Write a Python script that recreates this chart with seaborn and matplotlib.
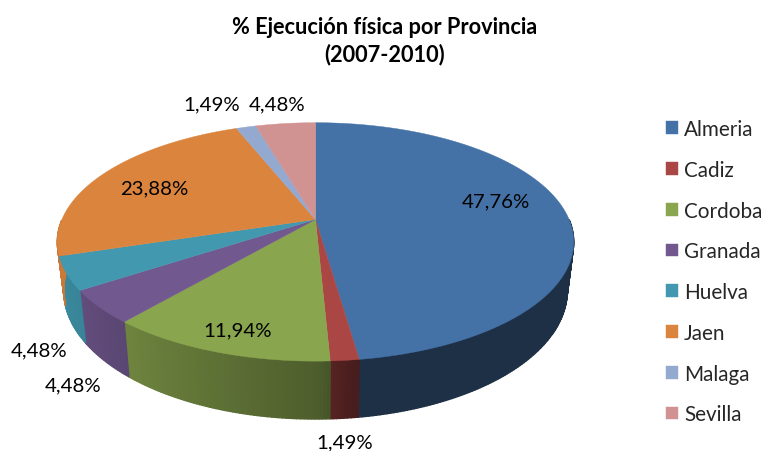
import numpy as np
import matplotlib
matplotlib.use("Agg")
import matplotlib.pyplot as plt
import seaborn as sns

provinces = ["Almeria", "Cadiz", "Cordoba", "Granada", "Huelva", "Jaen", "Malaga", "Sevilla"]
shares = [47.76, 1.49, 11.94, 4.48, 4.48, 23.88, 1.49, 4.48]
hex_colors = ["#4472A6", "#AA4644", "#89A54E", "#71588F", "#4198AF", "#DB843D", "#93A9CF", "#D19392"]
title_lines = ["% Ejecución física por Provincia", "(2007-2010)"]

sns.set_theme(style="white")
plt.rcParams["font.family"] = ["Lato", "DejaVu Sans"]
palette = sns.color_palette(hex_colors)

W, H = 763, 452
fig = plt.figure(figsize=(W / 100, H / 100), dpi=100)
ax = fig.add_axes([0, 0, 1, 1])
ax.set_xlim(0, W)
ax.set_ylim(H, 0)
ax.axis("off")

# perspective projection of the pie disc
CX, CY, A, B, K, DEPTH, SHRINK = 315.5, 220.5, 253.6, 115.0, 0.188, 47, 0.975


def top(theta):
    X, Y = np.sin(theta), np.cos(theta)
    d = 1 + K * Y
    return CX + A * X / d, CY - B * Y / d


def bottom(theta):
    X, Y = np.sin(theta), np.cos(theta)
    d = 1 + K * Y
    return CX + SHRINK * A * X / d, CY - B * Y / d + DEPTH / d


def shade(theta):
    return np.interp(np.sin(theta), [-1, -0.65, 0, 0.12, 1], [0.92, 0.8, 0.57, 0.42, 0.42])


edges = np.r_[0, np.cumsum(shares)] / np.sum(shares) * 2 * np.pi

# side wall, drawn in thin strips so the shading can follow the rim
for i, col in enumerate(palette):
    grid = np.arange(edges[i], edges[i + 1] + 0.012, 0.012)
    grid[-1] = edges[i + 1]
    for t0, t1 in zip(grid[:-1], grid[1:]):
        if np.cos(0.5 * (t0 + t1)) > 0:
            continue
        tt = np.array([t0, t1])
        x1, y1 = top(tt)
        x2, y2 = bottom(tt)
        c = np.array(col) * shade(0.5 * (t0 + t1))
        ax.fill(np.r_[x1, x2[::-1]], np.r_[y1, y2[::-1]], color=c, lw=1.0, ec=c, zorder=2)

# top face
for i, (name, col) in enumerate(zip(provinces, palette)):
    tt = np.linspace(edges[i], edges[i + 1], 200)
    x, y = top(tt)
    ax.fill(np.r_[CX, x], np.r_[CY, y], color=col, lw=0.3, ec=col, zorder=3, label=name)

# data labels
label_xy = [(496, 202), (345, 443), (238, 331), (73, 386), (39, 351), (154, 189), (212, 105), (277, 105)]
for v, (lx, ly) in zip(shares, label_xy):
    ax.text(lx, ly, f"{v:.2f}%".replace(".", ","), ha="center", va="center",
            fontsize=14.7, color="black", zorder=5)

ax.text(385, 28, title_lines[0], ha="center", va="center", fontsize=15.7, fontweight="bold", color="black")
ax.text(385, 55, title_lines[1], ha="center", va="center", fontsize=15.7, fontweight="bold", color="black")

leg = ax.legend(loc="upper left", bbox_to_anchor=(666 / W, 1 - 120 / H), bbox_transform=fig.transFigure,
                frameon=False, fontsize=14.9, labelspacing=1.003, handlelength=0.58, handleheight=0.58,
                handletextpad=0.29, borderpad=0, borderaxespad=0)

fig.savefig("out.png", dpi=100, facecolor="white")
